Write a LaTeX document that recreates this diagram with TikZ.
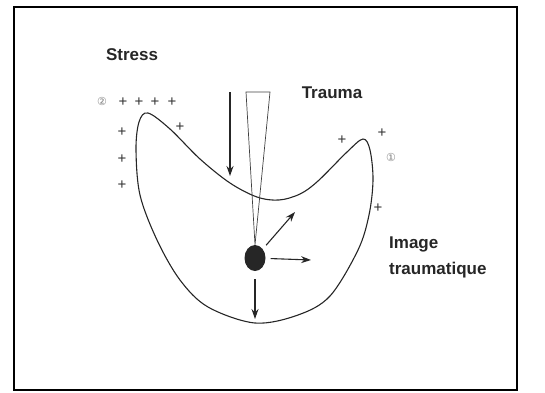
\documentclass[tikz,border=0pt]{standalone}
\usepackage{fontspec}
\setmainfont{Liberation Sans}
\newfontfamily\symfont{DejaVu Sans}
\usetikzlibrary{arrows.meta, shapes.geometric}

\tikzset{
	lbl/.style={font=\fontsize{17}{26}\selectfont\bfseries, text=black!85, inner sep=0pt},
	plus/.style={font=\fontsize{15}{15}\selectfont, text=black!80, inner sep=0pt},
	num/.style={font=\symfont\fontsize{11}{11}\selectfont, text=black!50, inner sep=0pt}
}

\begin{document}
\begin{tikzpicture}[x=1pt, y=-1pt, >={Stealth[length=10pt,width=7pt]}]
	\useasboundingbox (0,0) rectangle (545,392);
	\draw[line width=1.8pt] (14,7) rectangle (517,390);

	% the bean
	\draw[line width=1.1pt, black!85] plot[smooth cycle, tension=0.55] coordinates {
		(148,113) (170,129) (200,159) (230,183) (257,197) (279,200) (300,194)
		(318,181) (347,152) (363,139) (370,150)
		(373,180) (369,215) (358,250) (330,296) (298,315) (255,323)
		(208,307) (180,280) (157,240) (140,195) (136,150) (139,122)};

	% labels
	\node[lbl] (stress) at (132,55) {Stress};
	\node[lbl] (trauma) at (332,93) {Trauma};
	\node[lbl, align=left, anchor=north west] (image) at (389,237) {Image\\traumatique};
	\node[num] (two) at (102,101) {②};
	\node[num] (one) at (391,157) {①};

	% stress marks
	\foreach \name/\pos in {a/{123,102}, b/{139,102}, c/{155,102}, d/{172,102},
		e/{122,132}, f/{122,159}, g/{122,185}, h/{180,127},
		i/{342,140}, j/{382,133}, k/{378,208}}
		\node[plus] (p\name) at (\pos) {+};

	% trauma wedge and stress arrow
	\node[ellipse, fill=black!85, minimum width=21pt, minimum height=26pt, inner sep=0pt] (dot) at (255,258) {};
	\coordinate (wl) at (246,92);
	\coordinate (wr) at (270,92);
	\draw[line width=0.7pt, black!75] (wl) -- (wr) -- (dot.north) -- cycle;
	\coordinate (s0) at (230,92);
	\coordinate (s1) at (230,176);
	\draw[->, line width=1.3pt, black!85] (s0) -- (s1);

	% spreading image
	\coordinate (ne) at (295,212);
	\coordinate (ea) at (311,260);
	\coordinate (so) at (255,319);
	\draw[->, line width=1.1pt, black!85, shorten <=5pt] (dot) -- (ne);
	\draw[->, line width=1.1pt, black!85, shorten <=5pt] (dot) -- (ea);
	\draw[->, line width=1.1pt, black!85, shorten <=8pt] (dot) -- (so);
\end{tikzpicture}
\end{document}
